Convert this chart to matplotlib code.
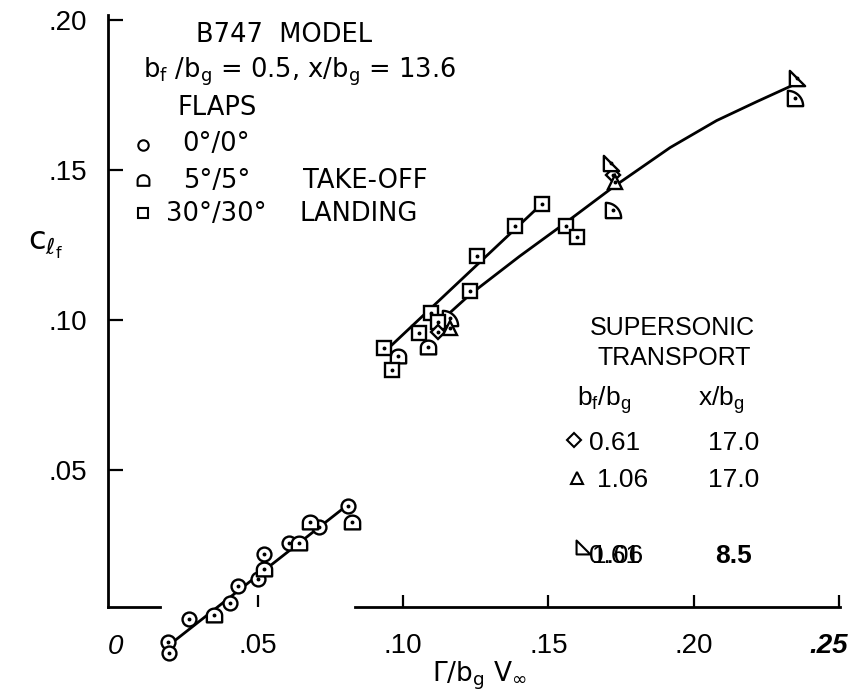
import numpy as np
import matplotlib
matplotlib.use('Agg')
import matplotlib.pyplot as plt
from matplotlib.path import Path

plt.rcParams['font.family'] = ['Liberation Sans', 'DejaVu Sans']
plt.rcParams['mathtext.fontset'] = 'dejavusans'

# ---------------- data ----------------
flaps0_x = [0.0192, 0.0195, 0.0264, 0.0404, 0.0432, 0.0499, 0.0521, 0.0608, 0.0711, 0.0809]
flaps0_y = [-0.0074, -0.0109, 0.0002, 0.0056, 0.0114, 0.0137, 0.0219, 0.0256, 0.0311, 0.0381]

takeoff_x = [0.0349, 0.0521, 0.0642, 0.0679, 0.0823, 0.0983, 0.1087]
takeoff_y = [0.0017, 0.0169, 0.0256, 0.0326, 0.0328, 0.0881, 0.0911]

quarter_x = [0.1161, 0.1723, 0.2349]
quarter_y = [0.1006, 0.1367, 0.1739]

landing_x = [0.0935, 0.0961, 0.1056, 0.1095, 0.1121, 0.1230, 0.1253, 0.1385, 0.1477, 0.1560, 0.1598]
landing_y = [0.0906, 0.0833, 0.0958, 0.1022, 0.0994, 0.1098, 0.1213, 0.1313, 0.1387, 0.1313, 0.1276]

sst061_x = [0.1121, 0.1723]
sst061_y = [0.0961, 0.1483]

sst106_x = [0.1161, 0.1729]
sst106_y = [0.0972, 0.1461]

sst85_x = [0.1717, 0.2355]
sst85_y = [0.1522, 0.1806]

fit0_x = [0.0199, 0.0787]
fit0_y = [-0.0080, 0.0367]

fitland_x = [0.0935, 0.1477]
fitland_y = [0.0893, 0.1387]

curve_x = [0.1133, 0.1230, 0.1400, 0.1560, 0.1724, 0.1919, 0.2079, 0.2217, 0.2355]
curve_y = [0.1000, 0.1085, 0.1212, 0.1325, 0.1444, 0.1575, 0.1665, 0.1728, 0.1789]

xticks = [0.05, 0.10, 0.15, 0.20, 0.25]
xticklabels = ['.05', '.10', '.15', '.20', '']
last_xlabel = '.25'
yticks = [0.05, 0.10, 0.15, 0.20]
yticklabels = ['.05', '.10', '.15', '.20']

# ---------------- marker shapes ----------------
def dome_marker():
    t = np.linspace(0, np.pi, 25)
    v = [(-0.5, -0.45), (0.5, -0.45), (0.5, 0.0)]
    v += [(0.5 * np.cos(a), 0.45 * np.sin(a)) for a in t[1:-1]]
    v += [(-0.5, 0.0), (-0.5, -0.45)]
    return Path(v, closed=True)

def quarter_marker():
    t = np.linspace(0, np.pi / 2, 20)
    v = [(-0.5, -0.5)] + [(-0.5 + np.cos(a), -0.5 + np.sin(a)) for a in t] + [(-0.5, -0.5)]
    return Path(v, closed=True)

def rtri_marker():
    v = [(-0.5, -0.5), (0.5, -0.5), (-0.5, 0.5), (-0.5, -0.5)]
    return Path(v, closed=True)

DOME = dome_marker()
QUART = quarter_marker()
RTRI = rtri_marker()

W, H = 854, 696
fig = plt.figure(figsize=(W / 100, H / 100), dpi=100)
ax_left, ax_right, ax_top, ax_bot = 108, 839.5, 15, 607
ax = fig.add_axes([ax_left / W, 1 - ax_bot / H, (ax_right - ax_left) / W, (ax_bot - ax_top) / H])
ax.set_xlim(-0.0016, 0.2502)
ax.set_ylim(0.00433, 0.2017)

lw = 2.0
# fitted lines
for xs, ys in [(fit0_x, fit0_y), (fitland_x, fitland_y), (curve_x, curve_y)]:
    ax.plot(xs, ys, '-', color='black', lw=lw, clip_on=False, zorder=2)

mkw = dict(linestyle='none', markerfacecolor='white', markeredgecolor='black',
           markeredgewidth=1.7, clip_on=False, zorder=3)
ax.plot(flaps0_x, flaps0_y, marker='o', ms=10, **mkw)
ax.plot(takeoff_x, takeoff_y, marker=DOME, ms=11, **mkw)
ax.plot(quarter_x, quarter_y, marker=QUART, ms=11, **mkw)
ax.plot(landing_x, landing_y, marker='s', ms=9.5, **mkw)
ax.plot(sst061_x, sst061_y, marker='D', ms=7.5, **mkw)
ax.plot(sst106_x, sst106_y, marker='^', ms=10, **mkw)
ax.plot(sst85_x, sst85_y, marker=RTRI, ms=11, **mkw)

# centre dots
for xs, ys in [(flaps0_x, flaps0_y), (takeoff_x, takeoff_y), (quarter_x, quarter_y),
               (landing_x, landing_y), (sst061_x, sst061_y), (sst106_x, sst106_y),
               (sst85_x, sst85_y)]:
    ax.plot(xs, ys, linestyle='none', marker='o', ms=1.8, color='black',
            clip_on=False, zorder=4)

# axes styling
for s in ['top', 'right', 'bottom']:
    ax.spines[s].set_visible(False)
ax.spines['left'].set_linewidth(lw)
# broken x axis line
ax.plot([-0.0016, 0.0163], [0.00433, 0.00433], color='black', lw=lw, clip_on=False, zorder=1)
ax.plot([0.0834, 0.2502], [0.00433, 0.00433], color='black', lw=lw, clip_on=False, zorder=1)

ax.set_xticks(xticks)
ax.set_xticklabels(xticklabels)
ax.set_yticks(yticks)
ax.set_yticklabels(yticklabels)
ax.tick_params(axis='x', direction='in', length=9, width=1.6, pad=19, labelsize=20)
ax.tick_params(axis='y', direction='in', length=11, width=1.6, pad=15, labelsize=20)

def fx(x):
    return x / W

def fy(y):
    return 1 - y / H

# last x tick label and origin label
fig.text(fx(829), fy(646), last_xlabel, fontsize=20, fontweight='bold', style='italic',
         ha='center', va='center')
fig.text(fx(115), fy(647), '0', fontsize=20, style='italic', ha='center', va='center')

# axis titles
fig.text(fx(45), fy(245), r'c$_{\ell_\mathregular{f}}$', fontsize=23, ha='center', va='center',
         family='DejaVu Sans')
fig.text(fx(480), fy(676), r'Γ/b$_\mathregular{g}$ V$_\infty$', fontsize=19, ha='center',
         va='center', family='DejaVu Sans')

# top-left legend block (geometric lettering)
fs = 18.5
tk = dict(fontsize=fs, ha='left', va='center', family='DejaVu Sans')
fig.text(fx(196), fy(35), 'B747  MODEL', **tk)
fig.text(fx(143), fy(72),
         r'b$_\mathregular{f}$ /b$_\mathregular{g}$ = 0.5, x/b$_\mathregular{g}$ = 13.6', **tk)
fig.text(fx(178), fy(108), 'FLAPS', **tk)
fig.text(fx(182), fy(144), '0°/0°', **tk)
fig.text(fx(183), fy(181), '5°/5°', **tk)
fig.text(fx(303), fy(181), 'TAKE-OFF', **tk)
fig.text(fx(166), fy(214), '30°/30°', **tk)
fig.text(fx(300), fy(214), 'LANDING', **tk)

lkw = dict(linestyle='none', markerfacecolor='white', markeredgecolor='black',
           markeredgewidth=1.5, transform=fig.transFigure, clip_on=False)
ax.plot([fx(143)], [fy(145)], marker='o', ms=7.5, **lkw)
ax.plot([fx(143)], [fy(180)], marker=DOME, ms=8.5, **lkw)
ax.plot([fx(143)], [fy(213)], marker='s', ms=7.5, **lkw)

# right legend block
fs2 = 19
fig.text(fx(590), fy(328), 'SUPERSONIC', fontsize=18, ha='left', va='center')
fig.text(fx(598), fy(358), 'TRANSPORT', fontsize=18, ha='left', va='center')
fig.text(fx(577), fy(400), r'b$_\mathregular{f}$/b$_\mathregular{g}$', fontsize=fs2, ha='left', va='center')
fig.text(fx(698), fy(400), r'x/b$_\mathregular{g}$', fontsize=fs2, ha='left', va='center')
fig.text(fx(589), fy(443), '0.61', fontsize=fs2, ha='left', va='center')
fig.text(fx(708), fy(443), '17.0', fontsize=fs2, ha='left', va='center')
fig.text(fx(597), fy(480), '1.06', fontsize=fs2, ha='left', va='center')
fig.text(fx(708), fy(480), '17.0', fontsize=fs2, ha='left', va='center')
fig.text(fx(589), fy(556), '0.61', fontsize=fs2, ha='left', va='center')
fig.text(fx(592), fy(556), '1.06', fontsize=fs2, ha='left', va='center')
fig.text(fx(715), fy(556), '8.5', fontsize=fs2, fontweight='bold', ha='left', va='center')

ax.plot([fx(574)], [fy(440)], marker='D', ms=7.5, **lkw)
ax.plot([fx(577)], [fy(478)], marker='^', ms=8.5, **lkw)
ax.plot([fx(583)], [fy(547)], marker=RTRI, ms=10, **lkw)

fig.savefig('out.png', dpi=100)
